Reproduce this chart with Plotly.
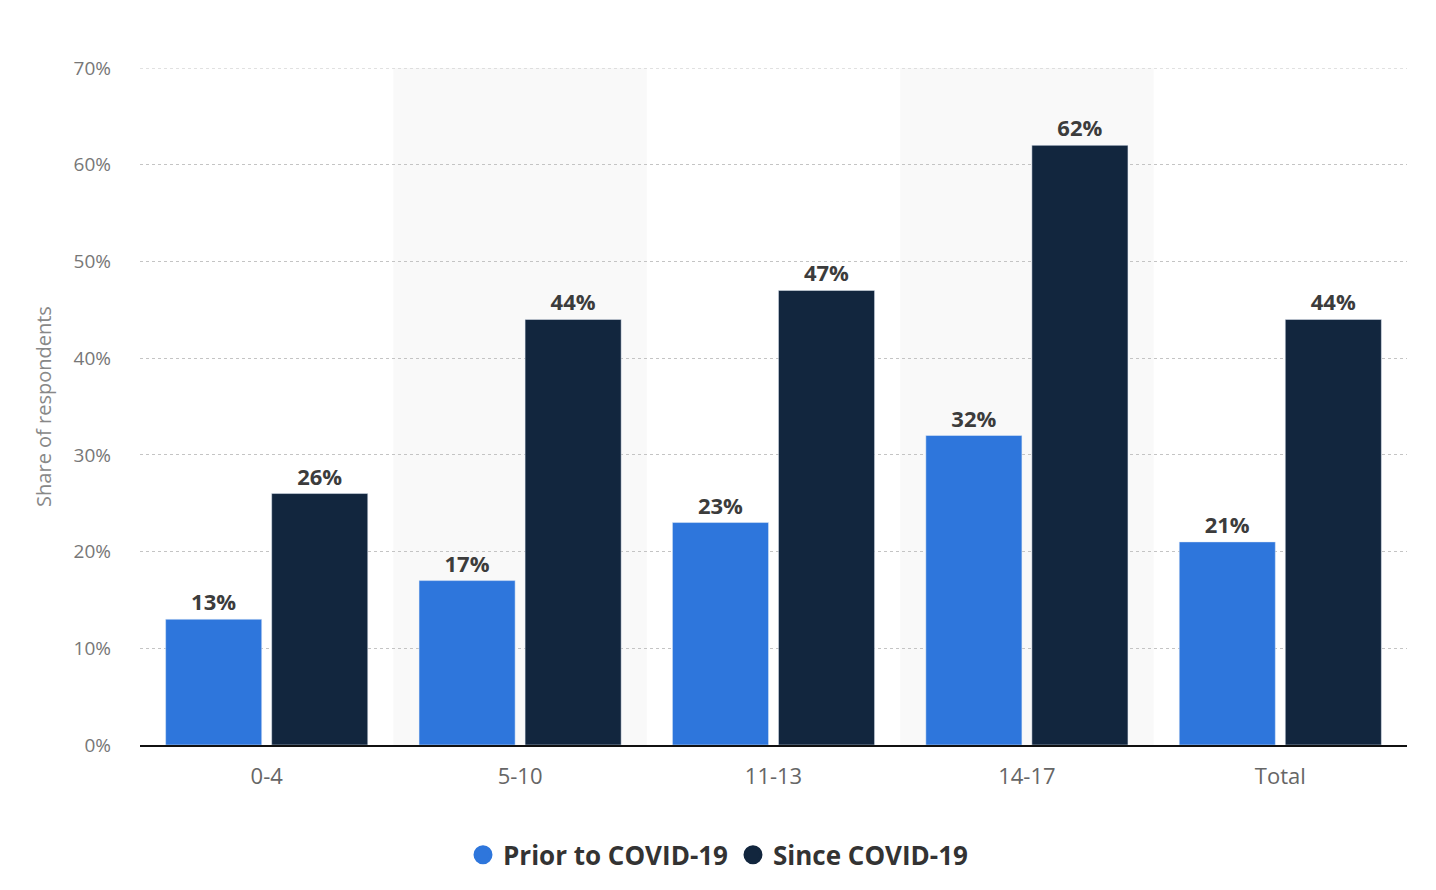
import plotly.graph_objects as go

categories = ["0-4", "5-10", "11-13", "14-17", "Total"]
prior = [13, 17, 23, 32, 21]
since = [26, 44, 47, 62, 44]
series_names = ["Prior to COVID-19", "Since COVID-19"]
colors = ["#2e76dc", "#12263e"]
y_ticks = [0, 10, 20, 30, 40, 50, 60, 70]

font_family = "Open Sans, Noto Sans, sans-serif"

fig = go.Figure()
for name, vals, col in zip(series_names, [prior, since], colors):
    fig.add_trace(go.Bar(
        x=categories, y=vals, name=name, marker_color=col, showlegend=False,
        text=[f"{v}%" for v in vals], textposition="outside",
        textfont=dict(family=font_family, size=22, color="#3c3c3c", weight="bold"),
        cliponaxis=False,
    ))
# legend entries with circular markers
for name, col in zip(series_names, colors):
    fig.add_trace(go.Scatter(x=[None], y=[None], mode="markers", name=name,
                             marker=dict(color=col, size=18, symbol="circle",
                                         line=dict(color=col, width=3))))

shapes = []
for i in (1, 3):
    shapes.append(dict(type="rect", xref="x", yref="paper", x0=i - 0.5, x1=i + 0.5,
                       y0=0, y1=1, fillcolor="#f9f9f9", line_width=0, layer="below"))
# top gridline (at the range edge)
shapes.append(dict(type="line", xref="paper", yref="y", x0=0, x1=1, y0=y_ticks[-1], y1=y_ticks[-1],
                   line=dict(color="#c4c4c4", width=1, dash="dot"), layer="below"))

fig.update_layout(
    width=1420, height=874,
    margin=dict(l=132, r=21, t=60, b=137),
    paper_bgcolor="white", plot_bgcolor="white",
    barmode="group", bargap=0.163, bargroupgap=0.094,
    shapes=shapes,
    font=dict(family=font_family, color="#666666"),
    xaxis=dict(tickfont=dict(size=22, color="#666666"), showgrid=False,
               showline=True, linecolor="#111111", linewidth=2, ticks="",
               ticklabelstandoff=11),
    yaxis=dict(range=[0, 70], tickvals=y_ticks, ticktext=[f"{t}%" for t in y_ticks],
               tickfont=dict(size=19, color="#777777"),
               showgrid=True, gridcolor="#c4c4c4", griddash="dot", gridwidth=1,
               zeroline=False, ticks="", ticklabelstandoff=28,
               title=dict(text="Share of respondents", font=dict(size=20, color="#888888"), standoff=16)),
    legend=dict(orientation="h", xref="container", x=0.5, xanchor="center",
                yref="container", y=0.031, yanchor="middle",
                font=dict(size=26, color="#333333", weight="bold")),
)
fig.write_html("out.html")
